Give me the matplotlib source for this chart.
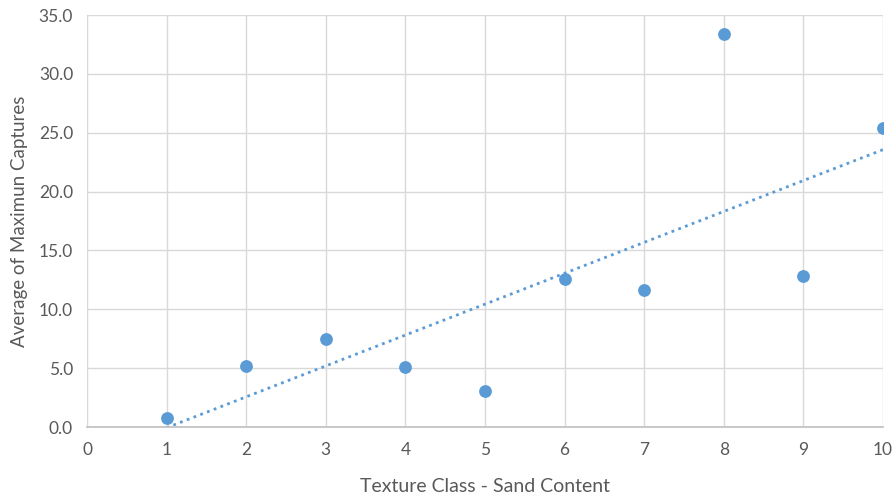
import numpy as np
import matplotlib.pyplot as plt

plt.rcParams['font.family'] = ['Lato', 'DejaVu Sans']

# texture class vs. average of maximum captures
texture_class = [1, 2, 3, 4, 5, 6, 7, 8, 9, 10]
avg_max_captures = [0.8, 5.2, 7.5, 5.1, 3.1, 12.6, 11.6, 33.4, 12.8, 25.4]

x_ticks = [0, 1, 2, 3, 4, 5, 6, 7, 8, 9, 10]
y_ticks = [0, 5, 10, 15, 20, 25, 30, 35]

blue = '#5B9BD5'
grey_txt = '#595959'

fig = plt.figure(figsize=(8.96, 4.94), dpi=100)
ax = fig.add_axes([0.0971, 0.1356, 0.8884, 0.834])

# linear trendline (excel style, dotted)
slope, intercept = np.polyfit(texture_class, avg_max_captures, 1)
xs = np.array([min(texture_class), max(texture_class)])
ax.plot(xs, slope * xs + intercept, linestyle=(0, (1, 1.6)), color=blue,
        linewidth=2.0, zorder=2)

ax.scatter(texture_class, avg_max_captures, s=85, color=blue, zorder=3,
           linewidths=0)

ax.set_xlim(0, 10)
ax.set_ylim(0, 35)
ax.set_xticks(x_ticks)
ax.set_yticks(y_ticks)
ax.set_yticklabels([f'{v:.1f}' for v in y_ticks])

ax.grid(True, color='#D9D9D9', linewidth=1.0)
ax.set_axisbelow(True)
for s in ['top', 'right']:
    ax.spines[s].set_visible(False)
ax.spines['left'].set_color('#D9D9D9')
ax.spines['bottom'].set_color('#BFBFBF')
ax.spines['bottom'].set_linewidth(1.2)

ax.tick_params(length=0, labelsize=12.5, colors=grey_txt, pad=11)
ax.tick_params(axis='y', pad=10)

ax.set_xlabel('Texture Class - Sand Content', fontsize=14, color=grey_txt,
              labelpad=14)
ax.set_ylabel('Average of Maximun Captures', fontsize=13.5, color=grey_txt,
              labelpad=8)

fig.savefig('out.png', dpi=100)
